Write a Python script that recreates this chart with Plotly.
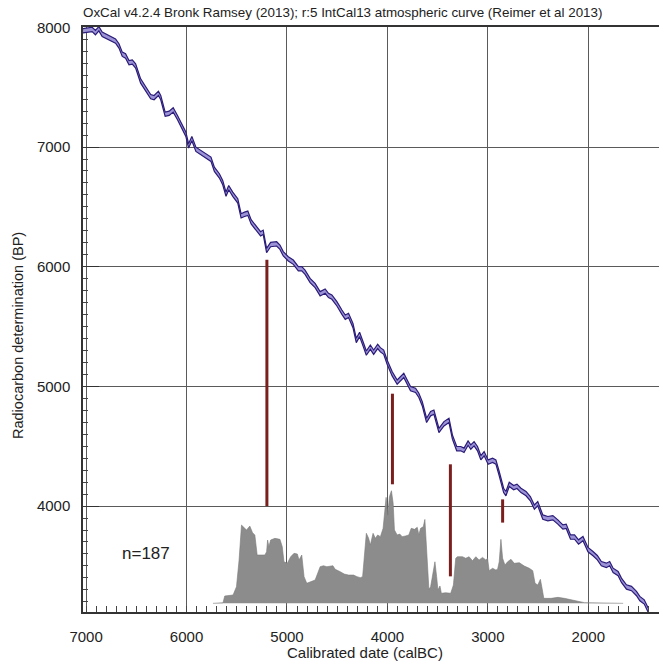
import plotly.graph_objects as go

# ---- Calibration curve (IntCal13): calBC vs BP ----
curve_cal = [7040, 6990, 6940, 6907, 6873, 6840, 6790, 6740, 6707, 6673, 6640, 6607, 6573, 6540, 6507,
             6457, 6407, 6357, 6323, 6280, 6257, 6213, 6173, 6133, 6090, 6040, 6007, 5980, 5947, 5907,
             5857, 5807, 5757, 5723, 5673, 5640, 5607, 5580, 5540, 5490, 5457, 5423, 5390, 5357,
             5303, 5263, 5237, 5203, 5163, 5103, 5070, 5037, 4987, 4937, 4887, 4853, 4820, 4770, 4720,
             4670, 4620, 4587, 4553, 4503, 4453, 4420, 4387, 4343, 4310, 4277, 4237, 4210, 4170, 4137,
             4097, 4070, 4037, 4003, 3953, 3903, 3837, 3803, 3770, 3720, 3687, 3653, 3610, 3570, 3537,
             3487, 3437, 3387, 3353, 3310, 3270, 3237, 3197, 3170, 3137, 3103, 3070, 3037, 2997, 2953,
             2920, 2887, 2843, 2820, 2787, 2743, 2710, 2670, 2620, 2577, 2537, 2503, 2453, 2403, 2353,
             2303, 2253, 2220, 2177, 2137, 2097, 2053, 2003, 1953, 1910, 1870, 1820, 1787, 1753, 1703,
             1670, 1620, 1570, 1520, 1487, 1443, 1403]
curve_bp = [7970, 7978, 7983, 7956, 7989, 7942, 7922, 7906, 7886, 7845, 7775, 7761, 7705, 7711, 7678,
            7552, 7482, 7421, 7413, 7449, 7413, 7274, 7282, 7310, 7246, 7163, 7107, 7010, 7071, 6981,
            6954, 6926, 6898, 6814, 6759, 6703, 6606, 6661, 6606, 6550, 6425, 6438, 6447, 6375,
            6317, 6275, 6288, 6135, 6185, 6191, 6163, 6108, 6066, 6038, 5983, 5983, 5954, 5885, 5843,
            5774, 5796, 5760, 5746, 5690, 5620, 5578, 5593, 5509, 5384, 5434, 5342, 5278, 5328, 5286,
            5334, 5306, 5286, 5203, 5106, 5036, 5092, 5036, 4981, 4967, 4925, 4855, 4716, 4772, 4785,
            4632, 4688, 4716, 4577, 4480, 4480, 4466, 4526, 4493, 4521, 4480, 4404, 4438, 4368, 4382,
            4368, 4271, 4131, 4104, 4182, 4154, 4165, 4131, 4104, 4062, 3992, 4020, 3908, 3895, 3903,
            3867, 3825, 3831, 3741, 3741, 3700, 3728, 3636, 3603, 3569, 3519, 3505, 3519, 3463, 3436,
            3380, 3324, 3311, 3269, 3227, 3199, 3130]
curve_sigma = 18  # half-width of the curve band (BP)

# ---- Summed probability distribution (relative height, peak = 1) ----
spd_cal = [5737, 5637, 5620, 5537, 5503, 5477, 5453, 5437, 5403, 5370, 5343, 5320, 5297, 5220, 5203,
           5193, 5180, 5163, 5120, 5070, 5047, 5030, 4997, 4963, 4930, 4897, 4880, 4853, 4830, 4803,
           4753, 4720, 4697, 4670, 4637, 4603, 4543, 4520, 4470, 4430, 4387, 4337, 4303, 4270, 4247,
           4230, 4210, 4187, 4170, 4143, 4120, 4097, 4070, 4043, 4027, 4013, 3997, 3980, 3960, 3943,
           3930, 3903, 3877, 3853, 3820, 3787, 3763, 3730, 3703, 3687, 3670, 3643, 3627, 3610, 3603,
           3587, 3570, 3543, 3527, 3510, 3497, 3477, 3463, 3420, 3370, 3343, 3320, 3303, 3253, 3220,
           3187, 3153, 3120, 3087, 3053, 3020, 3003, 2987, 2953, 2920, 2903, 2887, 2870, 2853, 2830,
           2803, 2770, 2737, 2687, 2637, 2587, 2553, 2530, 2503, 2477, 2463, 2443, 2370, 2303, 2237,
           2170, 2103, 2037, 1653]
spd_val = [0.0, 0.005, 0.065, 0.074, 0.147, 0.385, 0.695, 0.68, 0.651, 0.686, 0.627, 0.607, 0.429, 0.429, 0.458,
           0.562, 0.503, 0.562, 0.577, 0.568, 0.503, 0.369, 0.355, 0.414, 0.444, 0.438, 0.385, 0.429, 0.237, 0.178,
           0.196, 0.207, 0.260, 0.325, 0.334, 0.325, 0.334, 0.302, 0.281, 0.260, 0.251, 0.251, 0.237, 0.228, 0.237,
           0.385, 0.622, 0.577, 0.518, 0.622, 0.577, 0.607, 0.592, 0.666, 0.814, 0.941, 0.784, 0.947, 1.0, 0.888,
           0.651, 0.607, 0.615, 0.592, 0.598, 0.607, 0.666, 0.657, 0.675, 0.607, 0.666, 0.680, 0.745, 0.45, 0.325,
           0.124, 0.147, 0.281, 0.369, 0.237, 0.118, 0.154, 0.089, 0.094, 0.089, 0.163, 0.400, 0.414, 0.414, 0.400,
           0.414, 0.378, 0.414, 0.385, 0.408, 0.385, 0.400, 0.290, 0.311, 0.296, 0.302, 0.369, 0.568, 0.400, 0.340,
           0.369, 0.391, 0.355, 0.361, 0.331, 0.311, 0.290, 0.178, 0.163, 0.213, 0.147, 0.044, 0.044, 0.053, 0.044,
           0.029, 0.015, 0.006, 0.0]

# ---- Red range bars ----
bar_cal = [5200, 3950, 3373, 2853]
bar_bp_top = [6058, 4939, 4349, 4056]
bar_bp_bottom = [4000, 4182, 3413, 3862]

x_ticks = [7000, 6000, 5000, 4000, 3000, 2000]
y_ticks = [4000, 5000, 6000, 7000, 8000]

title_text = "OxCal v4.2.4 Bronk Ramsey (2013); r:5 IntCal13 atmospheric curve (Reimer et al 2013)"
n_label = "n=187"

FONT = "Liberation Sans, Arial, sans-serif"
TXT = "#222222"
NAVY = "#2a1c78"
BAND = "#9c92d6"

fig = go.Figure()

# Summed probability (secondary axis)
fig.add_trace(go.Scatter(x=spd_cal, y=spd_val, yaxis="y2", mode="lines",
                         line=dict(color="#7a7a7a", width=0.6),
                         fill="tozeroy", fillcolor="#8c8c8c", hoverinfo="skip", showlegend=False))

# Calibration curve band
lower = [b - curve_sigma for b in curve_bp]
upper = [b + curve_sigma for b in curve_bp]
fig.add_trace(go.Scatter(x=curve_cal, y=lower, mode="lines",
                         line=dict(color=NAVY, width=1.2), showlegend=False))
fig.add_trace(go.Scatter(x=curve_cal, y=upper, mode="lines", fill="tonexty", fillcolor=BAND,
                         line=dict(color=NAVY, width=1.2), showlegend=False))

# Red bars
bx, by = [], []
for c, t, b in zip(bar_cal, bar_bp_top, bar_bp_bottom):
    bx += [c, c, None]
    by += [t, b, None]
fig.add_trace(go.Scatter(x=bx, y=by, mode="lines", line=dict(color="#7b1e1e", width=3),
                         showlegend=False))

fig.add_annotation(x=6400, y=3605, xref="x", yref="y", text=n_label, showarrow=False,
                   font=dict(family=FONT, size=17, color=TXT))

# Axis titles
fig.add_annotation(x=(365 - 83) / 576, y=(612 - 652) / 585, xref="paper", yref="paper",
                   text="Calibrated date (calBC)", showarrow=False, xanchor="center", yanchor="middle",
                   font=dict(family=FONT, size=15, color=TXT))
fig.add_annotation(x=(18 - 83) / 576, y=(612 - 336) / 585, xref="paper", yref="paper",
                   text="Radiocarbon determination (BP)", showarrow=False, textangle=-90,
                   xanchor="center", yanchor="middle", font=dict(family=FONT, size=14.5, color=TXT))

fig.update_layout(
    width=659, height=664,
    margin=dict(l=83, r=0, t=27, b=52),
    paper_bgcolor="white", plot_bgcolor="white",
    title=dict(text=title_text, x=83 / 659, xanchor="left", xref="container",
               y=1 - 12 / 664, yanchor="middle", yref="container",
               font=dict(family=FONT, size=13.4, color=TXT)),
    xaxis=dict(range=[7031, 1296], tickvals=x_ticks, ticktext=[str(v) for v in x_ticks],
               showgrid=True, gridcolor="#5a5a5a", gridwidth=1,
               showline=True, linecolor="#333333", linewidth=1.5, mirror=True,
               ticks="inside", ticklen=0, zeroline=False,
               minor=dict(ticks="inside", dtick=100, ticklen=6, tickcolor="#444444", showgrid=False),
               tickfont=dict(family=FONT, size=15, color=TXT), ticklabelstandoff=10),
    yaxis=dict(range=[3115, 8003], tickvals=y_ticks, ticktext=[str(v) for v in y_ticks],
               showgrid=True, gridcolor="#5a5a5a", gridwidth=1,
               showline=True, linecolor="#333333", linewidth=1.5,
               ticks="inside", ticklen=16, tickcolor="#333333", zeroline=False,
               minor=dict(ticks="inside", dtick=100, ticklen=5, tickcolor="#444444", showgrid=False),
               tickfont=dict(family=FONT, size=15, color=TXT), ticklabelstandoff=8),
    yaxis2=dict(overlaying="y", range=[-0.077, 5.118], visible=False, fixedrange=True),
)

fig.write_html("out.html")
